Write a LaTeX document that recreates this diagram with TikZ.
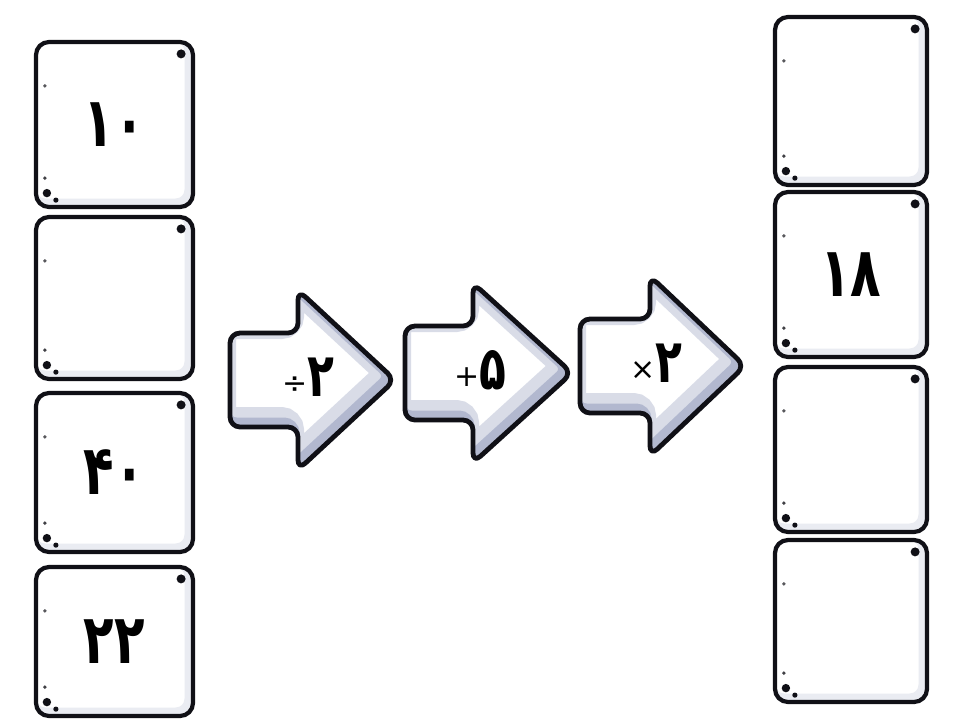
\documentclass[tikz,border=0pt]{standalone}
\usepackage{graphicx}
\usepackage{fontspec}
\newfontfamily\fa{DejaVu Sans}
\definecolor{shadowc}{RGB}{120,132,172}
\definecolor{inkc}{RGB}{16,16,22}
\newcommand\tall[1]{\scalebox{1}[1.38]{#1}}
\newcommand\opsign[1]{\raisebox{3pt}{\fontsize{30}{30}\selectfont\mdseries #1}}
\tikzset{
  card/.style={draw=inkc, line width=4.2pt, rounded corners=13pt, fill=white, inner sep=0pt,
    font=\fa\bfseries\fontsize{50}{50}\selectfont,
    path picture={\draw[shadowc!70, opacity=0.22, line width=9pt, rounded corners=13pt]
      ([shift={(-4,-4)}]path picture bounding box.south west) rectangle
      ([shift={(-4,-4)}]path picture bounding box.north east);}},
  oplabel/.style={inner sep=0pt, font=\fa\bfseries\fontsize{44}{44}\selectfont},
}
\newcommand\arrowoutline[5]{% options, left, notch, tip, centre y
  \path[#1] (#2,#5-47) -- (#3,#5-47) -- (#3,#5-90) -- (#4,#5) -- (#3,#5+90) -- (#3,#5+47) -- (#2,#5+47) -- cycle;}
\newcommand\oparrow[4]{% left, notch, tip, centre y
  \arrowoutline{fill=white, rounded corners=10pt}{#1}{#2}{#3}{#4}
  \begin{scope}
    \arrowoutline{clip, rounded corners=10pt}{#1}{#2}{#3}{#4}
    \arrowoutline{draw=shadowc, opacity=0.28, line width=26pt, rounded corners=10pt, shift={(-7,-7)}}{#1}{#2}{#3}{#4}
    \arrowoutline{draw=shadowc, opacity=0.40, line width=11pt, rounded corners=10pt, shift={(-4,-4)}}{#1}{#2}{#3}{#4}
  \end{scope}
  \arrowoutline{draw=inkc, line width=4.8pt, rounded corners=10pt, line join=round}{#1}{#2}{#3}{#4}}
\newcommand\cardbox[6]{% name, x1, y1, x2, y2, text
  \node[card, minimum width={#4-#2}, minimum height={#5-#3}] (#1) at ({(#2+#4)/2},{(#3+#5)/2}) {\raisebox{-4pt}{\tall{#6}}};
  \fill[inkc] ([shift={(-14,14)}]#1.north east) circle (4.5pt);
  \fill[inkc] ([shift={(13,-16)}]#1.south west) circle (4.2pt);
  \fill[inkc] ([shift={(22,-9)}]#1.south west) circle (2.6pt);
  \fill[inkc!80] ([shift={(11,-31)}]#1.south west) circle (1.9pt);
  \fill[inkc!70] ([shift={(11,46)}]#1.north west) circle (1.9pt);}
\begin{document}
\begin{tikzpicture}[x=1pt, y=-1pt]
  \useasboundingbox (0,0) rectangle (953,720);
  \fill[white] (0,0) rectangle (953,720);
  % left column
  \cardbox{l1}{36}{42}{193}{207}{۱۰}
  \cardbox{l2}{36}{217}{193}{379}{}
  \cardbox{l3}{36}{393}{193}{552}{۴۰}
  \cardbox{l4}{36}{567}{193}{716}{۲۲}
  % right column
  \cardbox{r1}{775}{17}{927}{185}{}
  \cardbox{r2}{775}{192}{927}{357}{۱۸}
  \cardbox{r3}{775}{367}{927}{532}{}
  \cardbox{r4}{775}{540}{927}{702}{}
  % operation arrows
  \oparrow{230}{298}{395}{380}
  \oparrow{405}{473}{572}{373}
  \oparrow{580}{650}{745}{366}
  \node[oplabel] (op1) at (308,377) {\opsign{÷}\tall{۲}};
  \node[oplabel] (op2) at (480,370) {\opsign{+}\tall{۵}};
  \node[oplabel] (op3) at (656,363) {\opsign{×}\tall{۲}};
\end{tikzpicture}
\end{document}
